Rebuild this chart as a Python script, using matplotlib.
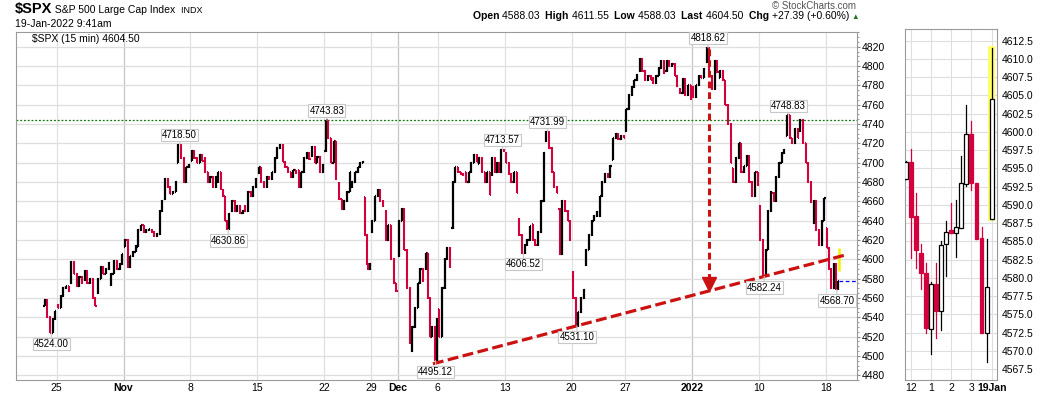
import numpy as np
import matplotlib
matplotlib.use("Agg")
import matplotlib.pyplot as plt
from matplotlib.collections import LineCollection
from matplotlib.patches import Rectangle
from matplotlib.transforms import offset_copy

plt.rcParams['font.family'] = ['Liberation Sans', 'DejaVu Sans']

W, H = 1050, 396
RED = '#d2003c'

# ---- 15 min $SPX, price readings per session ----
oct_dates = ['Oct 22', 'Oct 25', 'Oct 26', 'Oct 27', 'Oct 28', 'Oct 29']
oct_paths = [
    [4552, 4558, 4540, 4524.00, 4538, 4546],
    [4553, 4550, 4562, 4570, 4572, 4567],
    [4575, 4597, 4585, 4572, 4582, 4575],
    [4578, 4588, 4575, 4580, 4560, 4552],
    [4565, 4580, 4592, 4585, 4590, 4596],
    [4573, 4585, 4598, 4590, 4595, 4605],
]
nov_dates = ['Nov 1', 'Nov 2', 'Nov 3', 'Nov 4', 'Nov 5', 'Nov 8', 'Nov 9', 'Nov 10',
             'Nov 11', 'Nov 12', 'Nov 15', 'Nov 16', 'Nov 17', 'Nov 18', 'Nov 19',
             'Nov 22', 'Nov 23', 'Nov 24', 'Nov 26', 'Nov 29', 'Nov 30']
nov_paths = [
    [4613, 4620, 4592, 4603, 4608, 4614],
    [4613, 4630, 4635, 4628, 4630, 4631],
    [4630, 4628, 4624, 4626, 4650, 4660],
    [4662, 4683, 4675, 4668, 4670, 4680],
    [4700, 4718.50, 4705, 4680, 4695, 4698],
    [4702, 4712, 4705, 4700, 4708, 4702],
    [4705, 4690, 4680, 4685, 4675, 4685],
    [4680, 4690, 4672, 4665, 4640, 4630.86, 4647],
    [4650, 4660, 4650, 4655, 4648, 4650],
    [4655, 4650, 4670, 4665, 4675, 4683],
    [4689, 4695, 4680, 4675, 4685, 4683],
    [4683, 4690, 4705, 4715, 4718, 4701],
    [4701, 4695, 4690, 4685, 4692, 4689],
    [4692, 4675, 4690, 4705, 4710, 4704],
    [4707, 4716, 4700, 4706, 4690, 4698],
    [4712, 4743.83, 4725, 4700, 4722, 4683],
    [4679, 4662, 4652, 4660, 4670, 4690],
    [4675, 4680, 4690, 4695, 4700, 4701],
    [4664, 4625, 4595, 4590, 4595],
    [4628, 4640, 4665, 4672, 4660, 4655],
    [4650, 4620, 4635, 4600, 4575, 4567],
]
dec_dates = ['Dec 1', 'Dec 2', 'Dec 3', 'Dec 6', 'Dec 7', 'Dec 8', 'Dec 9', 'Dec 10',
             'Dec 13', 'Dec 14', 'Dec 15', 'Dec 16', 'Dec 17', 'Dec 20', 'Dec 21',
             'Dec 22', 'Dec 23', 'Dec 27', 'Dec 28', 'Dec 29', 'Dec 30', 'Dec 31']
dec_paths = [
    [4603, 4640, 4652, 4610, 4570, 4513],
    [4505, 4530, 4550, 4575, 4590, 4577],
    [4590, 4606, 4560, 4520, 4530, 4495.12, 4538],
    [4548, 4520, 4570, 4600, 4612, 4592],
    [4632, 4680, 4695, 4690, 4688, 4687],
    [4690, 4680, 4690, 4700, 4708, 4701],
    [4699, 4705, 4690, 4680, 4690, 4667],
    [4687, 4705, 4690, 4700, 4690, 4713.57, 4712],
    [4710, 4700, 4688, 4680, 4690, 4669],
    [4642, 4625, 4606.52, 4615, 4620, 4634],
    [4636, 4620, 4615, 4628, 4660, 4710],
    [4722, 4731.99, 4715, 4690, 4675, 4669],
    [4652, 4605, 4660, 4650, 4640, 4620],
    [4587, 4560, 4531.10, 4545, 4560, 4568],
    [4594, 4610, 4625, 4640, 4645, 4649],
    [4645, 4665, 4680, 4688, 4685, 4697],
    [4703, 4725, 4730, 4724, 4728, 4726],
    [4733, 4755, 4770, 4778, 4785, 4791],
    [4795, 4807, 4795, 4785, 4790, 4786],
    [4788, 4782, 4790, 4798, 4805, 4793],
    [4795, 4805, 4800, 4802, 4790, 4779],
    [4776, 4772, 4787, 4770, 4780, 4766],
]
jan_dates = ['Jan 3', 'Jan 4', 'Jan 5', 'Jan 6', 'Jan 7', 'Jan 10', 'Jan 11', 'Jan 12',
             'Jan 13', 'Jan 14', 'Jan 18']
jan_paths = [
    [4778, 4768, 4780, 4790, 4788, 4797],
    [4804, 4818.62, 4790, 4776, 4805, 4794],
    [4788, 4795, 4785, 4760, 4740, 4700],
    [4694, 4680, 4705, 4720, 4690, 4696],
    [4697, 4707, 4680, 4665, 4690, 4677],
    [4655, 4620, 4582.24, 4610, 4650, 4670],
    [4669, 4660, 4685, 4700, 4710, 4713],
    [4728, 4748.83, 4725, 4720, 4735, 4726],
    [4733, 4744, 4720, 4700, 4680, 4659],
    [4637, 4660, 4630, 4615, 4640, 4663],
    [4632, 4612, 4590, 4570, 4595, 4568.70, 4577],
]
half_days = ['Nov 26']

# live bar of Jan 19
last_open, last_high, last_low, last_close = 4588.03, 4611.55, 4588.03, 4604.50
prev_close = 4577.10

swing_labels = [(4524.00, 'below'), (4718.50, 'above'), (4630.86, 'below'),
                (4743.83, 'above'), (4495.12, 'below'), (4713.57, 'above'),
                (4731.99, 'above'), (4606.52, 'below'), (4531.10, 'below'),
                (4818.62, 'above'), (4748.83, 'above'), (4582.24, 'below'),
                (4568.70, 'below')]
resistance = 4743.83
trend_start, trend_a, trend_b = 4495.12, 4531.10, 4582.24
arrow_top = 4818.62

tick_dates = ['Oct 25', 'Nov 1', 'Nov 8', 'Nov 15', 'Nov 22', 'Nov 29', 'Dec 1', 'Dec 6',
              'Dec 13', 'Dec 20', 'Dec 27', 'Jan 3', 'Jan 10', 'Jan 18']
tick_text = ['25', 'Nov', '8', '15', '22', '29', 'Dec', '6', '13', '20', '27', '2022', '10', '18']
month_text = ['Nov', 'Dec', '2022']

# ---- right panel: 15 min candles, Jan 18 afternoon + first bar Jan 19 ----
rp_open = [4593.5, 4595.9, 4588.5, 4583.4, 4580.6, 4573.0, 4579.1, 4575.4, 4584.6,
           4586.5, 4586.1, 4586.8, 4592.9, 4599.7, 4593.0, 4585.4, 4572.4, 4588.03]
rp_close = [4595.9, 4588.3, 4583.8, 4580.6, 4573.1, 4579.1, 4575.4, 4584.5, 4586.3,
            4586.1, 4586.9, 4593.0, 4599.7, 4593.0, 4585.3, 4572.4, 4578.8, 4604.50]
rp_high = [4596.0, 4597.7, 4591.6, 4584.7, 4582.1, 4579.4, 4582.0, 4585.1, 4587.8,
           4590.2, 4590.7, 4596.7, 4603.7, 4601.5, 4593.0, 4587.0, 4585.3, 4611.55]
rp_low = [4593.5, 4582.7, 4581.3, 4578.5, 4572.4, 4569.6, 4571.7, 4572.8, 4580.2,
          4586.1, 4582.8, 4586.8, 4592.6, 4592.0, 4585.3, 4572.4, 4568.5, 4588.03]
rp_ticks = ['12', '1', '2', '3', '19Jan']

dates = oct_dates + nov_dates + dec_dates + jan_dates
paths = oct_paths + nov_paths + dec_paths + jan_paths

start, length = {}, {}
pos = 0.0
for d in dates + ['Jan 19']:
    start[d] = pos
    length[d] = 0.5 if d in half_days else 1.0
    pos += length[d]


def locate(value):
    for d, p in zip(dates, paths):
        if value in p:
            j = p.index(value)
            return start[d] + length[d] * j / (len(p) - 1)


fig = plt.figure(figsize=(W / 100, H / 100), dpi=100)
ax = fig.add_axes([16 / W, 1 - 380 / H, (856.5 - 16) / W, (380 - 32) / H])
ax.set_xlim(-2.04, 60.8)
ax.set_ylim(4475.2, 4835.2)

# bars
up, dn = [], []
for d, p in zip(dates, paths):
    n = len(p) - 1
    step = length[d] / n
    for k in range(n):
        o, c = p[k], p[k + 1]
        x = start[d] + step * (k + 0.5)
        t = step * 0.42
        segs = [[(x, min(o, c) - 0.8), (x, max(o, c) + 0.8)], [(x - t, o), (x, o)], [(x, c), (x + t, c)]]
        (up if c >= o else dn).extend(segs)
ax.add_collection(LineCollection(dn, colors=RED, linewidths=1.5, capstyle='butt', zorder=3))
ax.add_collection(LineCollection(up, colors='black', linewidths=1.6, capstyle='butt', zorder=3))

x19 = start['Jan 19'] + 0.5 / 26
ax.plot([x19, x19], [last_low, last_high], color='#f2f200', lw=1.8, zorder=4, solid_capstyle='butt')
ax.plot([x19, 60.8], [prev_close, prev_close], color='#0000ee', lw=0.9, dashes=(3, 2), zorder=2)

# grid
for d, txt in zip(tick_dates, tick_text):
    c = '#c4c4c4' if txt in month_text else '#e0e0e0'
    ax.axvline(start[d], color=c, lw=0.9, zorder=0)
for v in np.arange(4480, 4821, 20):
    ax.axhline(v, color='#dedede', lw=0.9, zorder=0)
ax.axhline(resistance, color='#0a7a0a', lw=0.9, dashes=(1.5, 1.5), zorder=2)

# trendline and projection arrow
xa, xb = locate(trend_a), locate(trend_b)
slope = (trend_b - trend_a) / (xb - xa)
x0, x1 = locate(trend_start) - 0.2, x19 + 0.45
ax.plot([x0, x1], [trend_a + slope * (x0 - xa), trend_a + slope * (x1 - xa)],
        color='#cc1111', lw=2.3, dashes=(3.4, 1.4), zorder=5, solid_capstyle='butt')
xr = locate(arrow_top) + 0.1
tip = trend_a + slope * (xr - xa)
ax.plot([xr, xr], [arrow_top - 1, tip + 8], color='#cc1111', lw=2.2, dashes=(2.2, 1.3), zorder=5)
tr = offset_copy(ax.transData, fig=fig, x=0, y=6.5, units='dots')
ax.plot([xr], [tip], marker='v', ms=10, color='#cc1111', mec='#cc1111', transform=tr, zorder=6)

# swing labels
for v, side in swing_labels:
    x = locate(v)
    off = 7.0 if side == 'above' else -8.0
    ax.annotate(f'{v:.2f}', (x, v), xytext=(0, off), textcoords='offset points',
                ha='center', va='center', fontsize=7, zorder=7,
                bbox=dict(boxstyle='square,pad=0.12', fc='white', ec='#c8c8c8', lw=0.8),
                arrowprops=dict(arrowstyle='-', color='#c8c8c8', lw=0.8, shrinkA=0, shrinkB=0))

ax.set_xticks([start[d] for d in tick_dates])
ax.set_xticklabels(tick_text, fontsize=7.5)
for lab in ax.get_xticklabels():
    if lab.get_text() in month_text:
        lab.set_fontweight('bold')
ax.tick_params(axis='x', length=0, pad=2.5)
ax.yaxis.tick_right()
ax.set_yticks(np.arange(4480, 4821, 20))
ax.set_yticks(np.arange(4475, 4836, 5), minor=True)
ax.tick_params(axis='y', which='major', labelsize=7.5, length=2, pad=2, color='#888888')
ax.tick_params(axis='y', which='minor', length=1.5, color='#888888')
for s in ax.spines.values():
    s.set_color('#9a9a9a')
    s.set_linewidth(0.8)

ax.text(0.019, 0.993, '$SPX (15 min) 4604.50', transform=ax.transAxes, fontsize=7.5,
        ha='left', va='top', zorder=8)

# ---- right panel ----
ax2 = fig.add_axes([905 / W, 1 - 380 / H, (996.7 - 905) / W, (380 - 29) / H])
rp_x = np.arange(len(rp_open)) - 1
ax2.set_xlim(-1.13, 17.0)
ax2.set_ylim(4566.0, 4614.1)
ax2.add_patch(Rectangle((rp_x[-1] - 0.75, rp_low[-1] - 0.25), 1.5,
                        rp_high[-1] - rp_low[-1] + 0.5, fc='#ffff66', ec='none', zorder=2))
for x, o, h, l, c in zip(rp_x, rp_open, rp_high, rp_low, rp_close):
    col = 'black' if c >= o else RED
    ax2.plot([x, x], [l, h], color=col, lw=0.9, zorder=3)
    ax2.add_patch(Rectangle((x - 0.38, min(o, c)), 0.76, max(abs(c - o), 0.2),
                            fc='white' if c >= o else col, ec=col, lw=0.9, zorder=4))
ax2.set_xticks([0, 4, 8, 12, 16])
ax2.set_xticklabels(rp_ticks, fontsize=7.5)
ax2.get_xticklabels()[-1].set_fontweight('bold')
ax2.tick_params(axis='x', length=0, pad=2.5)
ax2.yaxis.tick_right()
ax2.set_yticks(np.arange(4567.5, 4612.6, 2.5))
ax2.set_yticklabels([f'{v:.1f}' for v in np.arange(4567.5, 4612.6, 2.5)], fontsize=7.5)
ax2.tick_params(axis='y', length=0, pad=3.5)
ax2.grid(True, color='#dedede', lw=0.8)
ax2.set_axisbelow(True)
for s in ax2.spines.values():
    s.set_color('#9a9a9a')
    s.set_linewidth(0.8)

# ---- header ----
renderer = fig.canvas.get_renderer()


def rich(x, y, parts, align='left'):
    texts = []
    for s, size, bold, color in parts:
        texts.append(fig.text(0, 1 - y / H, s, fontsize=size, color=color, va='baseline',
                              fontweight='bold' if bold else 'normal'))
    widths = [t.get_window_extent(renderer).width for t in texts]
    cx = x - sum(widths) if align == 'right' else x
    for t, w in zip(texts, widths):
        t.set_x(cx / W)
        cx += w


rich(15, 13, [('$SPX', 10.5, True, 'black'), (' S&P 500 Large Cap Index', 7.5, False, 'black'),
              ('  INDX', 6.5, False, 'black')])
fig.text(15 / W, 1 - 27 / H, '19-Jan-2022 9:41am', fontsize=7.5, va='baseline')
fig.text(856 / W, 1 - 9 / H, '\u00a9 StockCharts.com', fontsize=7, color='#555555',
         ha='right', va='baseline')
rich(849, 19, [('Open ', 7.5, True, 'black'), ('4588.03  ', 7.5, False, 'black'),
               ('High ', 7.5, True, 'black'), ('4611.55  ', 7.5, False, 'black'),
               ('Low ', 7.5, True, 'black'), ('4588.03  ', 7.5, False, 'black'),
               ('Last ', 7.5, True, 'black'), ('4604.50  ', 7.5, False, 'black'),
               ('Chg ', 7.5, True, 'black'), ('+27.39 (+0.60%)', 7.5, False, 'black')],
     align='right')
fig.text(851 / W, 1 - 19 / H, '\u25b2', fontsize=5.5, color='#1f7a1f', va='baseline')

fig.savefig('out.png', dpi=100, facecolor='white')
